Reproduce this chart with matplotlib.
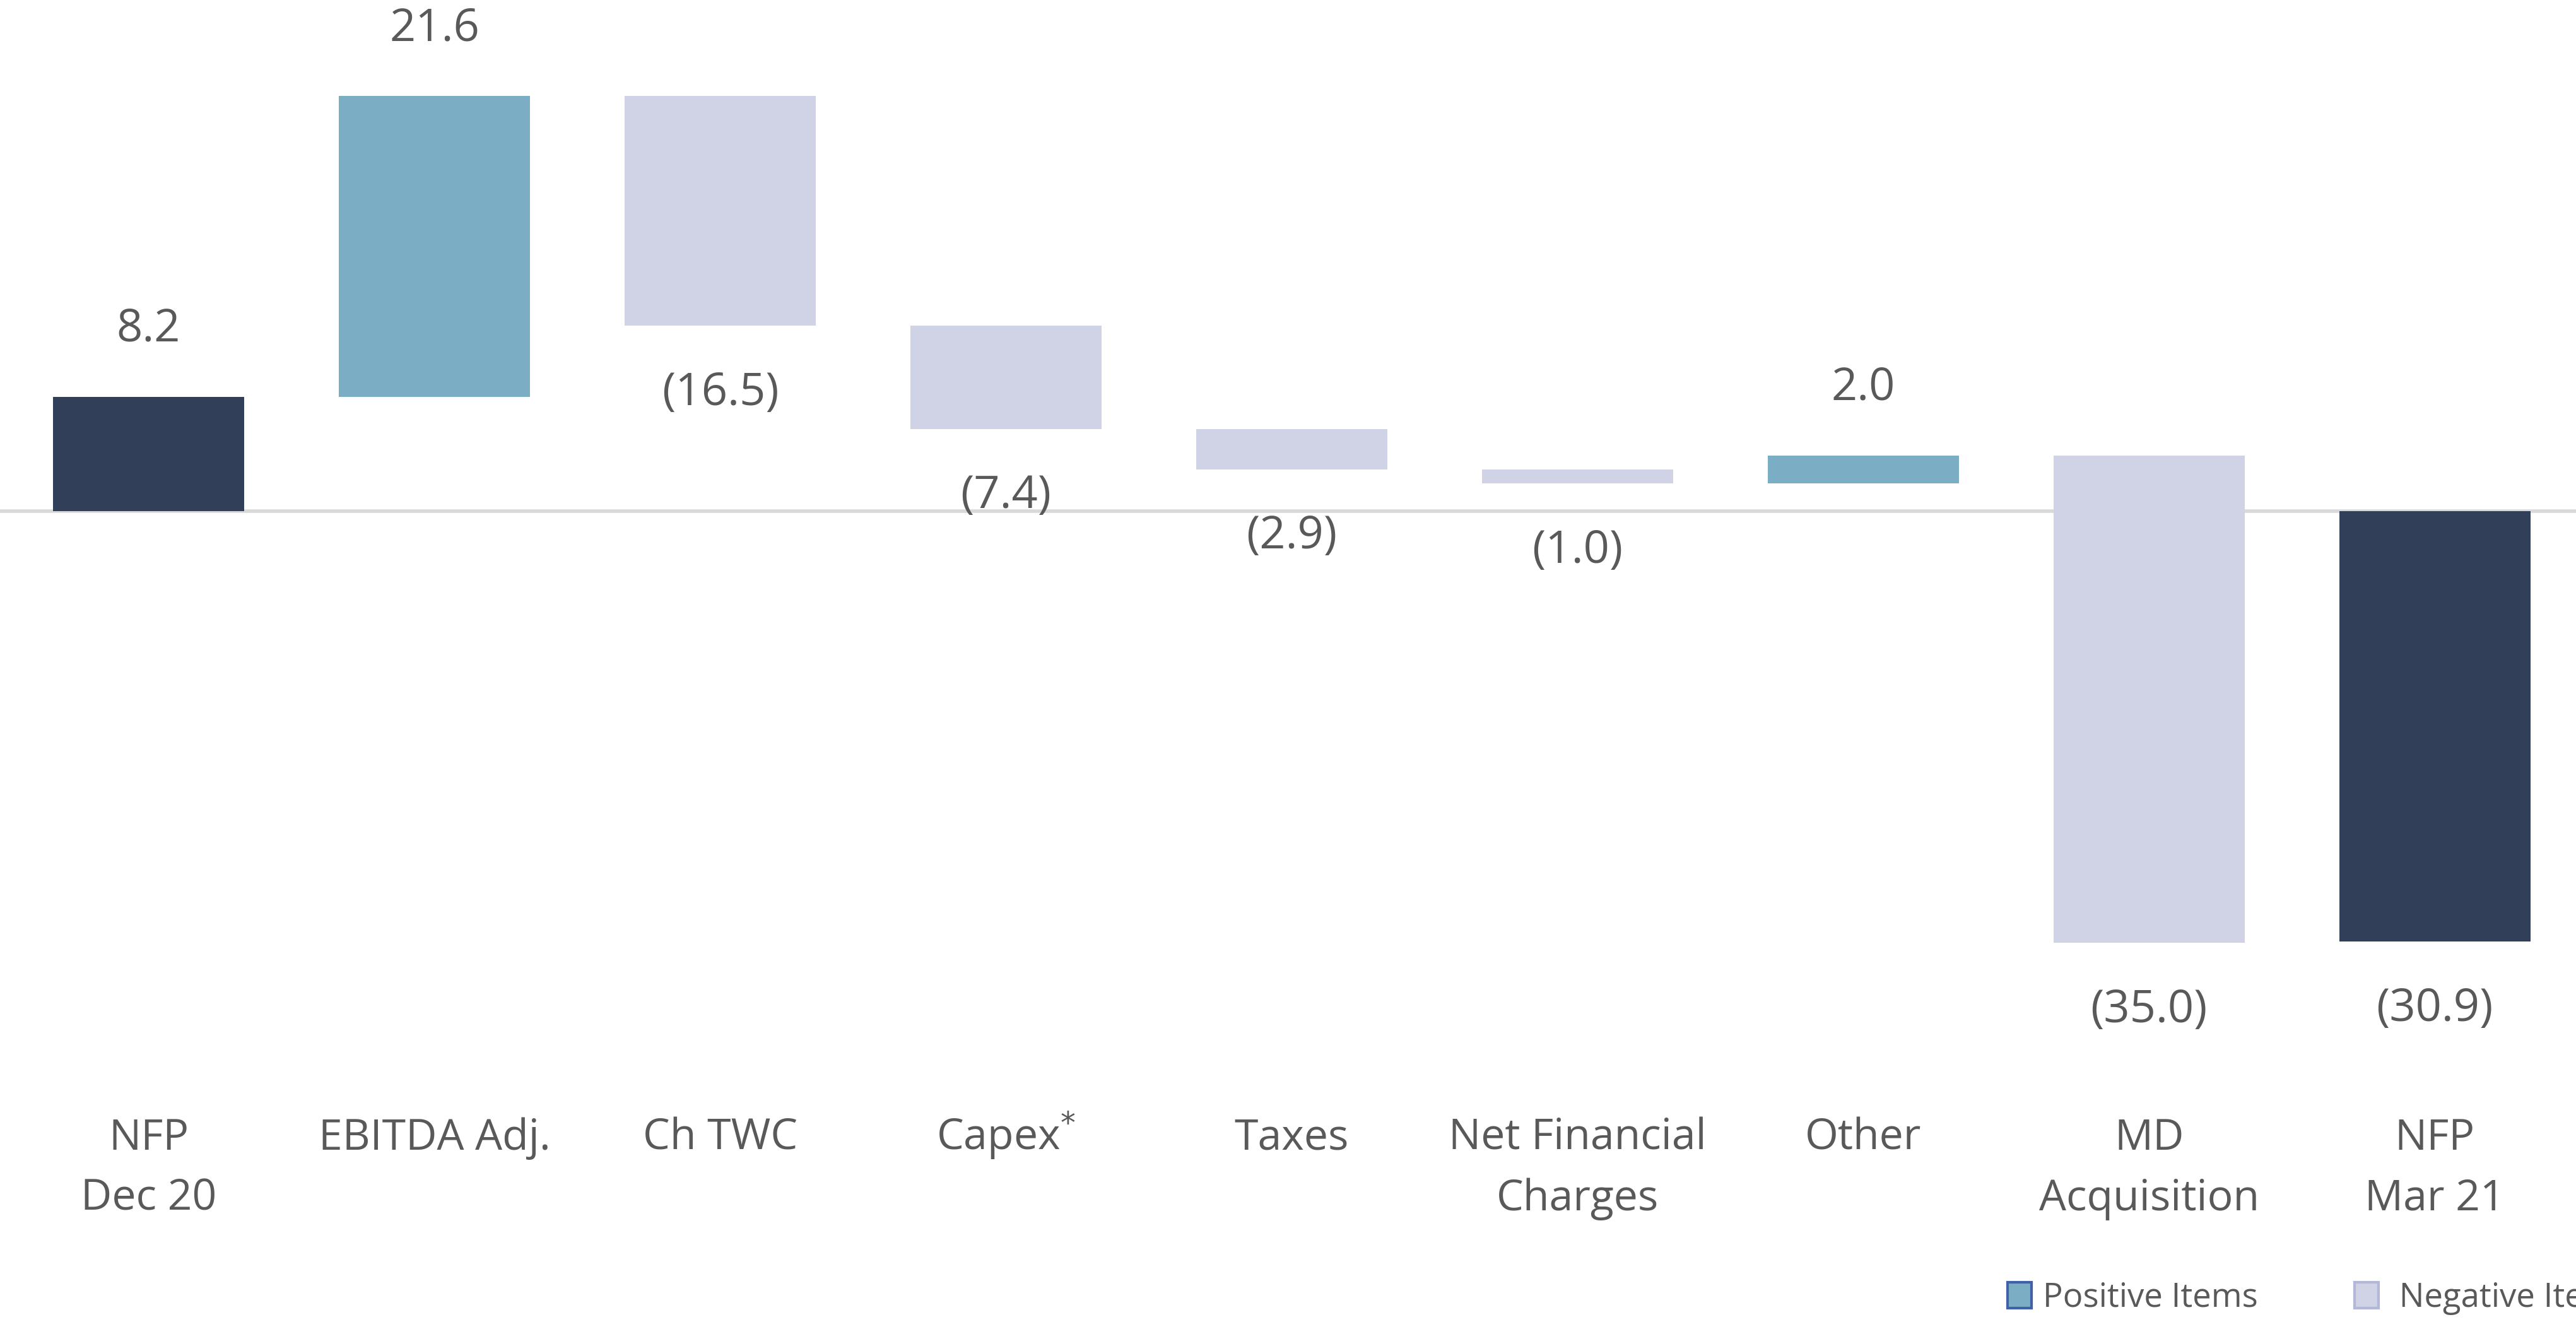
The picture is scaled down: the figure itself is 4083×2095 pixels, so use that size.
import matplotlib.pyplot as plt
from matplotlib.patches import Patch
import matplotlib.transforms as mtransforms

# Data
categories = ['NFP\nDec 20', 'EBITDA Adj.', 'Ch TWC', 'Capex$^{*}$', 'Taxes',
              'Net Financial\nCharges', 'Other', 'MD\nAcquisition', 'NFP\nMar 21']
values = [8.2, 21.6, -16.5, -7.4, -2.9, -1.0, 2.0, -35.0, -30.9]
kinds = ['total', 'delta', 'delta', 'delta', 'delta', 'delta', 'delta', 'delta', 'total']
legend_labels = ['Positive Items', ' Negative Items']

NAVY = '#313F59'
POS = '#7BADC4'
NEG = '#D0D3E5'
TXT = '#595959'

plt.rcParams['font.family'] = ['Open Sans', 'DejaVu Sans']

fig = plt.figure(figsize=(40.83, 20.95), dpi=100)
ax = fig.add_axes([0, 0.1885, 1, 0.8115])

# waterfall bottoms / heights
bottoms, heights, colors = [], [], []
running = 0.0
for v, k in zip(values, kinds):
    if k == 'total':
        bottoms.append(0)
        heights.append(v)
        colors.append(NAVY)
        running = v
    else:
        bottoms.append(running)
        heights.append(v)
        colors.append(POS if v > 0 else NEG)
        running += v

x = list(range(len(categories)))
ax.bar(x, heights, bottom=bottoms, width=0.669, color=colors, zorder=2)
ax.axhline(0, color='#D9D9D9', lw=4, zorder=1)

# value labels
for i, (v, b, h) in enumerate(zip(values, bottoms, heights)):
    if v >= 0:
        txt = f'{v:.1f}'
        off = 77
    else:
        txt = f'({abs(v):.1f})'
        off = -77
    ax.annotate(txt, xy=(i, b + h), xytext=(0, off), textcoords='offset points',
                ha='center', va='center', fontsize=52, color=TXT)

# category labels, one line at a time
trans = mtransforms.blended_transform_factory(ax.transData, fig.transFigure)
for i, lab in enumerate(categories):
    for j, line in enumerate(lab.split('\n')):
        y_px = 1822 + 96 * j
        ax.text(i, 1 - y_px / 2095, line, transform=trans, ha='center',
                va='baseline', fontsize=49, color=TXT)

ax.set_xlim(-0.52, 8.494)
ax.set_ylim(-40.33, 36.70)
ax.axis('off')

handles = [Patch(facecolor=POS, edgecolor='#4060A8', linewidth=3),
           Patch(facecolor=NEG, edgecolor='#B4B8D8', linewidth=3)]
fig.legend(handles, legend_labels, loc='center left',
           bbox_to_anchor=(3182 / 4083, 1 - 2057 / 2095), ncol=2, frameon=False,
           fontsize=38, labelcolor=TXT, handlelength=0.72, handleheight=0.81,
           handletextpad=0.35, columnspacing=2.9, borderpad=0, borderaxespad=0)

fig.savefig('out.png', dpi=100)
